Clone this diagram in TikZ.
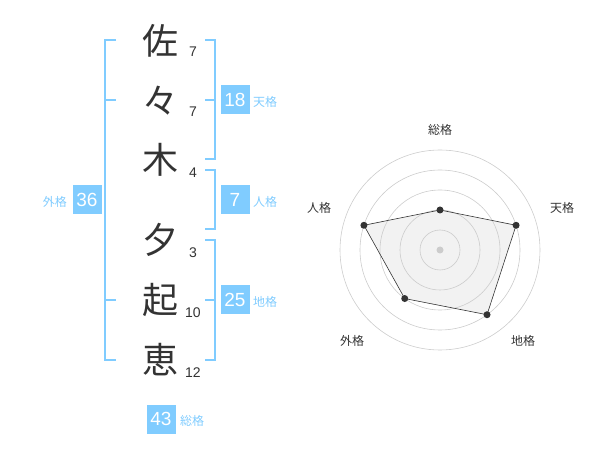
\documentclass[tikz,border=0pt]{standalone}
\usepackage{fontspec}
\usetikzlibrary{calc}
\setmainfont{Liberation Sans}
\newfontfamily\cjk{Noto Sans CJK JP}
\definecolor{kblue}{HTML}{80CCFF}
\definecolor{kdark}{HTML}{333333}
\definecolor{kring}{HTML}{CCCCCC}
\definecolor{kfill}{HTML}{F2F2F2}
\begin{document}
\begin{tikzpicture}[x=1pt,y=-1pt,
  bigch/.style={inner sep=0pt,text=kdark,font=\cjk\fontsize{36}{36}\selectfont},
  stroke/.style={inner sep=0pt,text=kdark,font=\fontsize{14}{14}\selectfont},
  kbox/.style={fill=kblue,text=white,minimum width=29pt,minimum height=29pt,inner sep=0pt,font=\fontsize{19}{19}\selectfont},
  klabel/.style={inner sep=0pt,text=kblue,font=\cjk\fontsize{12}{12}\selectfont},
  brk/.style={draw=kblue,line width=2pt},
  ring/.style={draw=kring,line width=0.6pt},
  rlabel/.style={inner sep=0pt,text=kdark,font=\cjk\fontsize{12}{12}\selectfont},
  dot/.style={circle,fill=kdark,inner sep=0pt,minimum size=7pt}]
\useasboundingbox (0,0) rectangle (600,470);
% characters
\node[bigch] (c1) at (160,41) {佐};
\node[bigch] (c2) at (160,101) {々};
\node[bigch] (c3) at (160,160) {木};
\node[bigch] (c4) at (160,240) {夕};
\node[bigch] (c5) at (160,300) {起};
\node[bigch] (c6) at (160,360) {恵};
% stroke counts
\node[stroke] (n1) at (193,52) {7};
\node[stroke] (n2) at (193,112) {7};
\node[stroke] (n3) at (193,173) {4};
\node[stroke] (n4) at (193,253) {3};
\node[stroke] (n5) at (193,313) {10};
\node[stroke] (n6) at (193,373) {12};
% left bracket (gaikaku)
\coordinate (l1) at (116,40);
\coordinate (l2) at (105,40);
\coordinate (l3) at (105,360);
\coordinate (l4) at (116,360);
\coordinate (lm1) at (116,100);
\coordinate (lm1b) at (105,100);
\coordinate (lm2) at (116,300);
\coordinate (lm2b) at (105,300);
\draw[brk] (l1) -- (l2) -- (l3) -- (l4);
\draw[brk] (lm1b) -- (lm1);
\draw[brk] (lm2b) -- (lm2);
\node[kbox] (b36) at (87,200) {36};
\node[klabel,anchor=east] (t36) at (67,202) {外格};
% right bracket tenkaku
\coordinate (r1a) at (205,40);
\coordinate (r1b) at (215,40);
\coordinate (r1c) at (215,159);
\coordinate (r1d) at (205,159);
\coordinate (r1m) at (205,100);
\coordinate (r1mb) at (215,100);
\draw[brk] (r1a) -- (r1b) -- (r1c) -- (r1d);
\draw[brk] (r1m) -- (r1mb);
\node[kbox] (b18) at (235,100) {18};
\node[klabel,anchor=west] (t18) at (253,102) {天格};
% right bracket jinkaku
\coordinate (r2a) at (205,170);
\coordinate (r2b) at (215,170);
\coordinate (r2c) at (215,229);
\coordinate (r2d) at (205,229);
\draw[brk] (r2a) -- (r2b) -- (r2c) -- (r2d);
\node[kbox] (b7) at (235,200) {7};
\node[klabel,anchor=west] (t7) at (253,202) {人格};
% right bracket chikaku
\coordinate (r3a) at (205,240);
\coordinate (r3b) at (215,240);
\coordinate (r3c) at (215,360);
\coordinate (r3d) at (205,360);
\coordinate (r3m) at (205,300);
\coordinate (r3mb) at (215,300);
\draw[brk] (r3a) -- (r3b) -- (r3c) -- (r3d);
\draw[brk] (r3m) -- (r3mb);
\node[kbox] (b25) at (235,300) {25};
\node[klabel,anchor=west] (t25) at (253,302) {地格};
% soukaku
\node[kbox] (b43) at (161,419) {43};
\node[klabel,anchor=west] (t43) at (180,421) {総格};
% radar chart
\coordinate (ctr) at (440,250);
\coordinate (p1) at ($(ctr)+(-90:40)$);
\coordinate (p2) at ($(ctr)+(-18:80)$);
\coordinate (p3) at ($(ctr)+(54:80)$);
\coordinate (p4) at ($(ctr)+(126:60)$);
\coordinate (p5) at ($(ctr)+(198:80)$);
\fill[kfill] (p1) -- (p2) -- (p3) -- (p4) -- (p5) -- cycle;
\foreach \r in {20,40,60,80,100} \draw[ring] (ctr) circle[radius=\r];
\draw[draw=kdark,line width=0.6pt] (p1) -- (p2) -- (p3) -- (p4) -- (p5) -- cycle;
\foreach \p in {p1,p2,p3,p4,p5} \node[dot] at (\p) {};
\node[circle,fill=kring,inner sep=0pt,minimum size=7pt] (cdot) at (ctr) {};
\node[rlabel] (a1) at (440,130) {総格};
\node[rlabel] (a2) at (562,208) {天格};
\node[rlabel] (a3) at (523,341) {地格};
\node[rlabel] (a4) at (352,341) {外格};
\node[rlabel] (a5) at (319,208) {人格};
\end{tikzpicture}
\end{document}
